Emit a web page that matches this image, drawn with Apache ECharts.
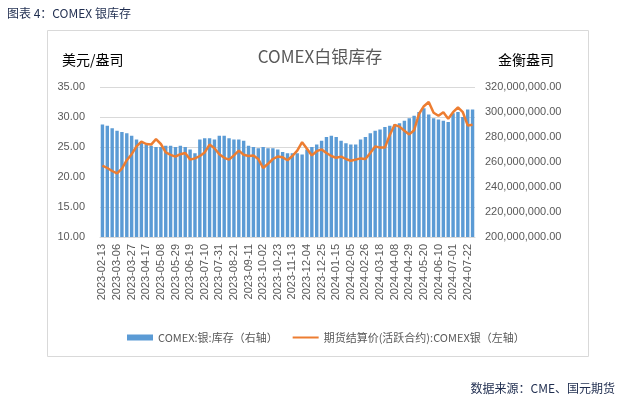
<!DOCTYPE html>
<html>
<head>
<meta charset="utf-8">
<script src="https://cdn.jsdelivr.net/npm/echarts@6/dist/echarts.min.js"></script>
<style>
  html, body { margin: 0; padding: 0; background: #fff; }
  #chart { width: 640px; height: 399px; }
</style>
</head>
<body>
<div id="chart"></div>
<script>
// 每周一个点（周一日期）
var weeks = [
  '2023-02-13','2023-02-20','2023-02-27','2023-03-06','2023-03-13','2023-03-20','2023-03-27',
  '2023-04-03','2023-04-10','2023-04-17','2023-04-24','2023-05-01','2023-05-08','2023-05-15',
  '2023-05-22','2023-05-29','2023-06-05','2023-06-12','2023-06-19','2023-06-26','2023-07-03',
  '2023-07-10','2023-07-17','2023-07-24','2023-07-31','2023-08-07','2023-08-14','2023-08-21',
  '2023-08-28','2023-09-04','2023-09-11','2023-09-18','2023-09-25','2023-10-02','2023-10-09',
  '2023-10-16','2023-10-23','2023-10-30','2023-11-06','2023-11-13','2023-11-20','2023-11-27',
  '2023-12-04','2023-12-11','2023-12-18','2023-12-25','2024-01-01','2024-01-08','2024-01-15',
  '2024-01-22','2024-01-29','2024-02-05','2024-02-12','2024-02-19','2024-02-26','2024-03-04',
  '2024-03-11','2024-03-18','2024-03-25','2024-04-01','2024-04-08','2024-04-15','2024-04-22',
  '2024-04-29','2024-05-06','2024-05-13','2024-05-20','2024-05-27','2024-06-03','2024-06-10',
  '2024-06-17','2024-06-24','2024-07-01','2024-07-08','2024-07-15','2024-07-22','2024-07-29'
];

// COMEX:银:库存（百万金衡盎司）
var stockM = [
  290, 289, 287, 285, 284, 283, 281, 278, 276, 274, 273, 272, 272, 273, 273, 272,
  273, 272, 270, 267, 278, 279, 279, 278, 281, 281, 279, 278, 278, 277, 273, 272,
  271, 272, 271, 271, 270, 268, 267, 267, 267, 266, 270, 272, 274, 277, 280, 281,
  280, 277, 275, 274, 274, 278, 280, 283, 285, 286, 288, 289, 290, 291, 293, 295,
  297, 300, 303, 298, 295, 294, 293, 292, 299, 300, 296, 302, 302
];

// 期货结算价(活跃合约):COMEX银（美元/盎司）
var price = [
  21.9, 21.5, 21.0, 20.6, 21.4, 22.8, 23.8, 25.1, 25.9, 25.5, 25.4, 26.3, 25.5, 24.1,
  23.7, 23.4, 23.8, 24.0, 22.9, 23.1, 23.5, 24.1, 25.4, 24.8, 23.8, 23.2, 22.9, 23.6,
  24.4, 23.7, 23.5, 23.6, 23.0, 21.5, 22.2, 23.0, 23.4, 23.3, 22.8, 23.5, 24.4, 25.8,
  24.7, 23.6, 24.3, 24.6, 24.0, 23.5, 23.2, 23.4, 23.0, 22.7, 22.9, 23.1, 23.0, 24.0,
  25.1, 24.9, 24.9, 27.0, 28.7, 28.4, 27.7, 27.1, 27.8, 30.5, 31.8, 32.5, 30.7, 30.2,
  30.8, 29.7, 30.8, 31.6, 30.8, 28.6, 28.7
];

var stock = stockM.map(function (v) { return v * 1000000; });

function fmtBig(v) {
  return v.toFixed(2).replace(/\B(?=(\d{3})+(?!\d))/g, ',');
}

var myChart = echarts.init(document.getElementById('chart'));
var option = {
  animation: false,
  title: [
    {
      text: '图表 4：COMEX 银库存',
      left: 2, top: 2,
      textStyle: { fontSize: 12, fontWeight: 'normal', color: '#1f2d4f', fontFamily: 'Noto Sans CJK SC' }
    },
    {
      text: 'COMEX白银库存',
      left: 'center', top: 43,
      textStyle: { fontSize: 17, fontWeight: 'normal', color: '#595959', fontFamily: 'Noto Sans CJK SC' }
    },
    {
      text: '数据来源：CME、国元期货',
      right: 20, top: 377,
      textStyle: { fontSize: 12, fontWeight: 'normal', color: '#1f2d4f', fontFamily: 'Noto Sans CJK SC' }
    }
  ],
  graphic: [
    {
      type: 'rect',
      shape: { x: 47.5, y: 30.5, width: 541, height: 326 },
      style: { fill: 'none', stroke: '#d9d9d9', lineWidth: 1 },
      silent: true
    }
  ],
  legend: {
    left: 122, top: 327,
    itemWidth: 26, itemHeight: 6, itemGap: 14,
    textStyle: { fontSize: 11, color: '#595959', fontFamily: 'Noto Sans CJK SC' },
    data: [
      { name: 'COMEX:银:库存（右轴）', icon: 'rect' },
      { name: '期货结算价(活跃合约):COMEX银（左轴）', itemStyle: { opacity: 0 } }
    ]
  },
  grid: { left: 100, right: 165, top: 87, bottom: 162 },
  xAxis: {
    type: 'category',
    data: weeks,
    axisLine: { lineStyle: { color: '#d9d9d9' } },
    axisTick: { show: false },
    axisLabel: {
      interval: 2, rotate: 90, fontSize: 11, color: '#595959',
      fontFamily: 'Liberation Sans', margin: 7
    }
  },
  yAxis: [
    {
      type: 'value', min: 10, max: 35, interval: 5,
      name: '美元/盎司', nameLocation: 'end', nameGap: 20,
      nameTextStyle: { fontSize: 14, color: '#000', fontFamily: 'Noto Sans CJK SC', align: 'left', padding: [0, 0, 0, -38] },
      axisLine: { show: false }, axisTick: { show: false },
      axisLabel: { fontSize: 11, color: '#595959', fontFamily: 'Liberation Sans', margin: 15,
        formatter: function (v) { return v.toFixed(2); } },
      splitLine: { lineStyle: { color: '#d9d9d9' } }
    },
    {
      type: 'value', min: 200000000, max: 320000000, interval: 20000000,
      name: '金衡盎司', nameLocation: 'end', nameGap: 20,
      nameTextStyle: { fontSize: 14, color: '#000', fontFamily: 'Noto Sans CJK SC', align: 'left', padding: [0, 0, 0, 23] },
      axisLine: { show: false }, axisTick: { show: false },
      axisLabel: { fontSize: 11, color: '#595959', fontFamily: 'Liberation Sans', margin: 10, formatter: fmtBig },
      splitLine: { show: false }
    }
  ],
  series: [
    {
      name: 'COMEX:银:库存（右轴）',
      type: 'bar',
      yAxisIndex: 1,
      data: stock,
      barCategoryGap: '30%',
      itemStyle: { color: '#5b9bd5' }
    },
    {
      name: '期货结算价(活跃合约):COMEX银（左轴）',
      type: 'line',
      yAxisIndex: 0,
      data: price,
      symbol: 'none',
      lineStyle: { color: '#ed7d31', width: 2.5 },
      itemStyle: { color: '#ed7d31' }
    }
  ]
};
myChart.setOption(option);
</script>
</body>
</html>
